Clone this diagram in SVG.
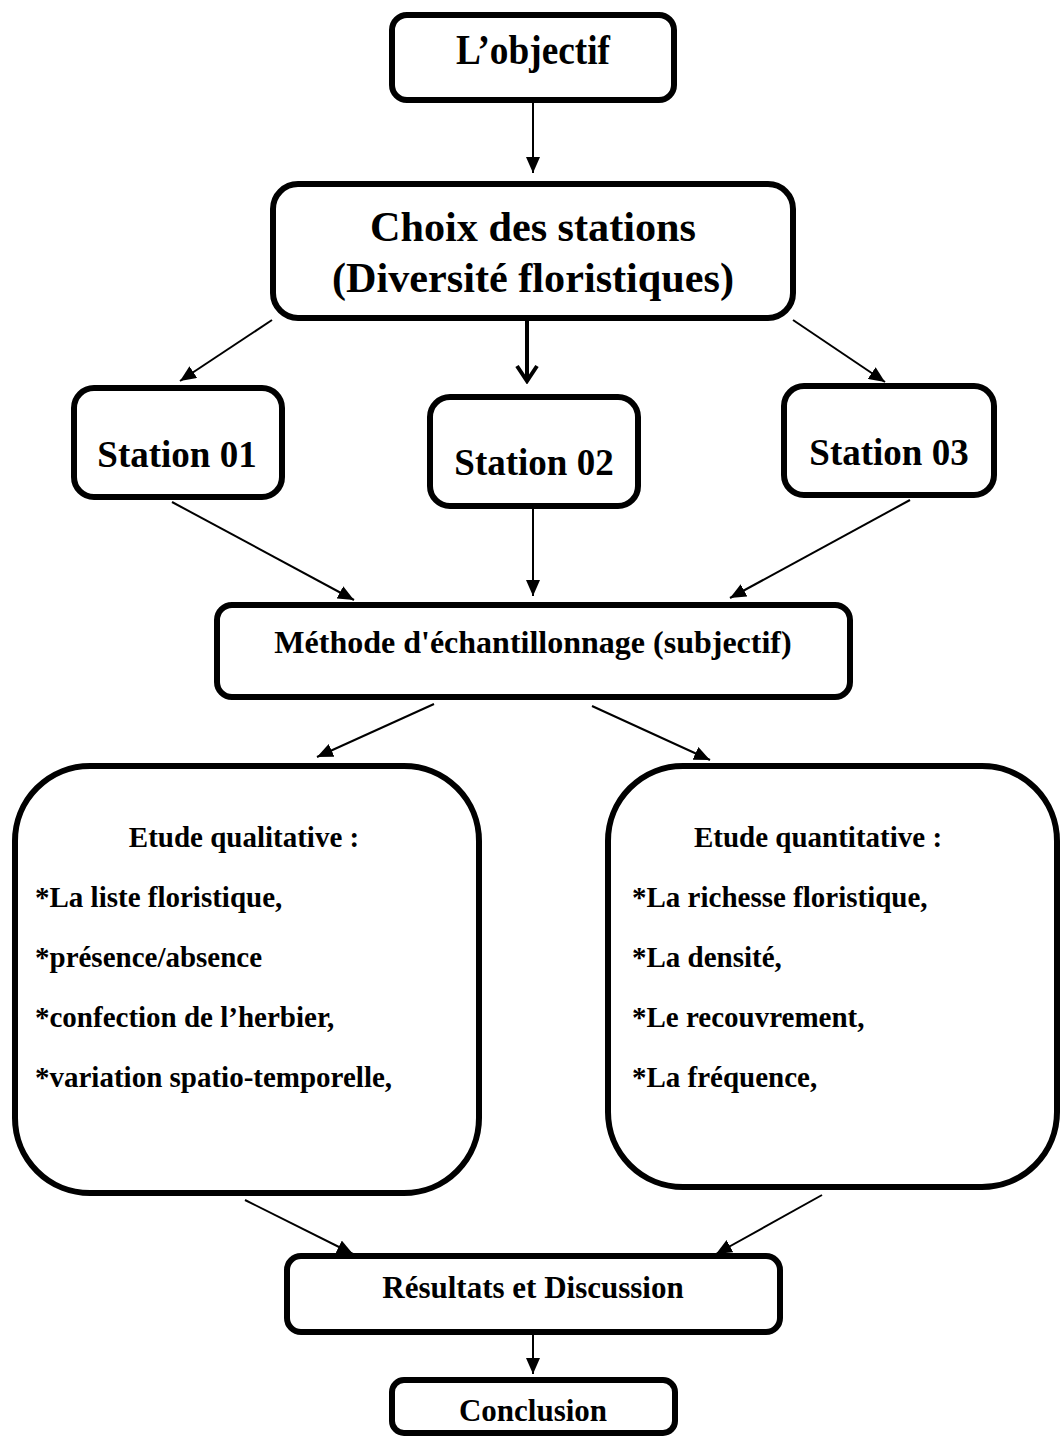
<svg xmlns="http://www.w3.org/2000/svg" width="1060" height="1438" viewBox="0 0 1060 1438">
<style>
.box{fill:#fff;stroke:#000;stroke-width:6}
.t{font-family:"Liberation Serif","Times New Roman",serif;font-weight:bold;fill:#000}
.c{text-anchor:middle}
.ln{stroke:#000;stroke-width:2;fill:none}
</style>
<defs>
<marker id="ah" markerUnits="userSpaceOnUse" markerWidth="16" markerHeight="14" refX="16" refY="7" orient="auto">
<path d="M0,0 L16,7 L0,14 z" fill="#000"/>
</marker>
<marker id="ah2" markerUnits="userSpaceOnUse" markerWidth="20" markerHeight="24" refX="17" refY="12" orient="auto">
<path d="M2,2 L17,12 L2,22" fill="none" stroke="#000" stroke-width="4"/>
</marker>
</defs>
<rect width="1060" height="1438" fill="#fff"/>
<g id="connectors">
<line class="ln" x1="533" y1="101" x2="533" y2="173" marker-end="url(#ah)"/>
<line class="ln" x1="272" y1="320" x2="180" y2="381" marker-end="url(#ah)"/>
<line class="ln" x1="527" y1="321" x2="527" y2="381" style="stroke-width:4" marker-end="url(#ah2)"/>
<line class="ln" x1="793" y1="320" x2="885" y2="382" marker-end="url(#ah)"/>
<line class="ln" x1="172" y1="502" x2="354" y2="600" marker-end="url(#ah)"/>
<line class="ln" x1="533" y1="509" x2="533" y2="596" marker-end="url(#ah)"/>
<line class="ln" x1="910" y1="500" x2="730" y2="598" marker-end="url(#ah)"/>
<line class="ln" x1="434" y1="704" x2="317" y2="757" marker-end="url(#ah)"/>
<line class="ln" x1="592" y1="706" x2="710" y2="760" marker-end="url(#ah)"/>
<line class="ln" x1="245" y1="1200" x2="353" y2="1254" marker-end="url(#ah)"/>
<line class="ln" x1="822" y1="1195" x2="716" y2="1254" marker-end="url(#ah)"/>
<line class="ln" x1="533" y1="1334" x2="533" y2="1374" marker-end="url(#ah)"/>
</g>
<g id="objectif">
<rect class="box" x="392" y="15" width="282" height="85" rx="15"/>
<text class="t c" x="533" y="64" font-size="42" textLength="154" lengthAdjust="spacingAndGlyphs">L’objectif</text>
</g>
<g id="choix">
<rect class="box" x="273" y="184" width="520" height="134" rx="25"/>
<text class="t c" x="533" y="241" font-size="42" textLength="326" lengthAdjust="spacingAndGlyphs">Choix des stations</text>
<text class="t c" x="533" y="292" font-size="42" textLength="402" lengthAdjust="spacingAndGlyphs">(Diversité floristiques)</text>
</g>
<g id="station01">
<rect class="box" x="74" y="388" width="208" height="109" rx="20"/>
<text class="t c" x="177" y="467" font-size="37">Station 01</text>
</g>
<g id="station02">
<rect class="box" x="430" y="397" width="208" height="109" rx="20"/>
<text class="t c" x="534" y="475" font-size="37">Station 02</text>
</g>
<g id="station03">
<rect class="box" x="784" y="386" width="210" height="109" rx="20"/>
<text class="t c" x="889" y="465" font-size="37">Station 03</text>
</g>
<g id="methode">
<rect class="box" x="217" y="605" width="633" height="92" rx="15"/>
<text class="t c" x="533" y="653" font-size="32">Méthode d'échantillonnage (subjectif)</text>
</g>
<g id="qualitative">
<rect class="box" x="15" y="766" width="464" height="427" rx="75"/>
<text class="t c" x="244" y="847" font-size="29">Etude qualitative :</text>
<text class="t" x="35" y="907" font-size="29">*La liste floristique,</text>
<text class="t" x="35" y="967" font-size="29">*présence/absence</text>
<text class="t" x="35" y="1027" font-size="29">*confection de l’herbier,</text>
<text class="t" x="35" y="1087" font-size="29">*variation spatio-temporelle,</text>
</g>
<g id="quantitative">
<rect class="box" x="608" y="766" width="449" height="421" rx="75"/>
<text class="t c" x="818" y="847" font-size="29">Etude quantitative :</text>
<text class="t" x="632" y="907" font-size="29">*La richesse floristique,</text>
<text class="t" x="632" y="967" font-size="29">*La densité,</text>
<text class="t" x="632" y="1027" font-size="29">*Le recouvrement,</text>
<text class="t" x="632" y="1087" font-size="29">*La fréquence,</text>
</g>
<g id="resultats">
<rect class="box" x="287" y="1256" width="493" height="76" rx="14"/>
<text class="t c" x="533" y="1298" font-size="31">Résultats et Discussion</text>
</g>
<g id="conclusion">
<rect class="box" x="392" y="1380" width="283" height="53" rx="12"/>
<text class="t c" x="533" y="1421" font-size="31">Conclusion</text>
</g>
</svg>
